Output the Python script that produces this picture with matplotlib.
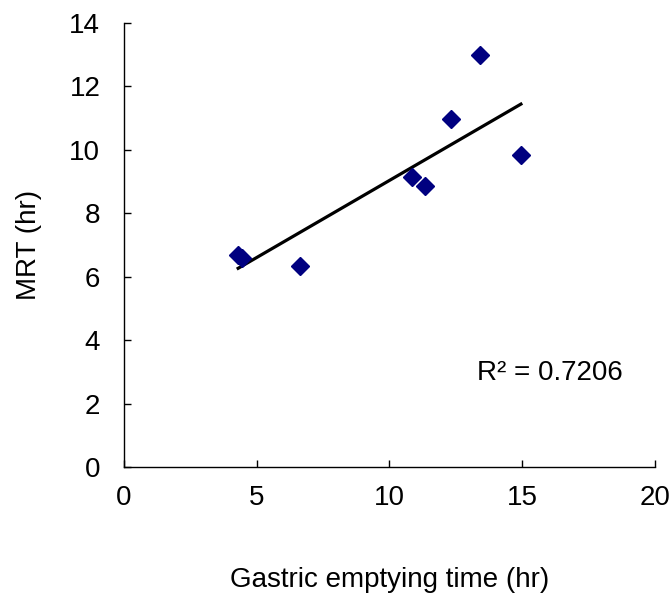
import matplotlib
matplotlib.use("Agg")
import matplotlib.pyplot as plt
import numpy as np

plt.rcParams['font.family'] = ['Liberation Sans', 'DejaVu Sans']

# gastric emptying time (hr) vs mean residence time (hr)
get_hr = [4.30, 4.45, 6.63, 10.85, 11.35, 12.33, 13.41, 14.95]
mrt_hr = [6.70, 6.60, 6.35, 9.13, 8.86, 10.97, 13.00, 9.84]
r2_label = 'R² = 0.7206'

x = np.array(get_hr)
y = np.array(mrt_hr)
slope, icept = np.polyfit(x, y, 1)
xfit = np.array([x.min(), x.max()])

fig = plt.figure(figsize=(6.72, 5.99), dpi=100)
ax = fig.add_axes([0.1845, 0.2204, 0.7902, 0.7412])

ax.plot(xfit, slope * xfit + icept, color='black', lw=2.3, zorder=2)
ax.plot(x, y, 'D', color='#000080', markersize=9, zorder=3, clip_on=False)

ax.set_xlim(0, 20)
ax.set_ylim(0, 14)
ax.set_xticks([0, 5, 10, 15, 20])
ax.set_yticks(range(0, 15, 2))
ax.spines['top'].set_visible(False)
ax.spines['right'].set_visible(False)
for s in ('left', 'bottom'):
    ax.spines[s].set_linewidth(1.0)
ax.tick_params(direction='in', length=5, width=1.0, labelsize=20)
ax.tick_params(axis='x', pad=13)
ax.tick_params(axis='y', pad=17)

ax.text(13.3, 2.95, r2_label, fontsize=20, va='center', ha='left')

ax.set_xlabel('Gastric emptying time (hr)', fontsize=20, labelpad=40)
ax.set_ylabel('MRT (hr)', fontsize=20, labelpad=20)

fig.savefig('out.png', dpi=100)
